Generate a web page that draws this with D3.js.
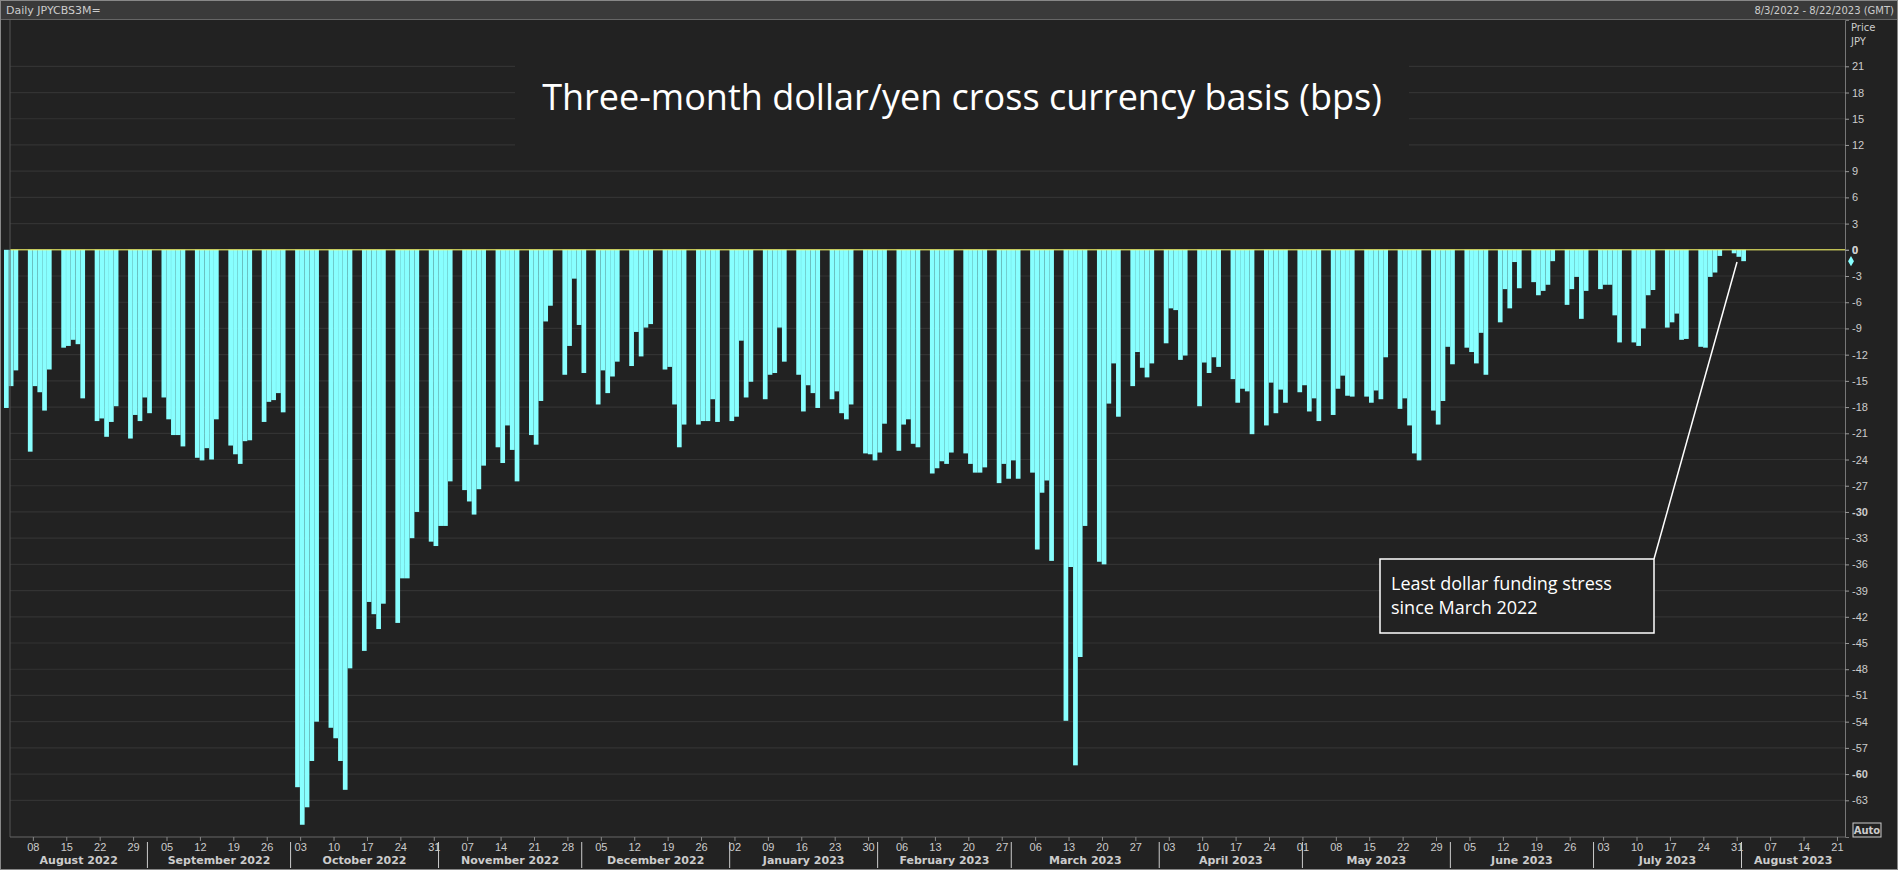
<!DOCTYPE html>
<html><head><meta charset="utf-8">
<script src="https://cdn.jsdelivr.net/npm/d3@7"></script>
<style>body{margin:0;background:#222;}svg{display:block;font-family:Verdana,"DejaVu Sans",sans-serif;}</style>
</head><body><svg id="c" width="1898" height="870"></svg>
<script>
// business days from 2022-08-03 to 2023-08-02, values in bps
const startDate = "2022-08-03", endDate = "2023-08-02";
const values = [
// Aug 2022
-18.1,-15.6,-13.8,-23.1,-15.6,-16.3,-18.4,-13.7,-11.2,-11.0,-10.3,-10.8,-17.0,-19.6,-19.3,-21.4,-19.7,-17.9,-21.6,-18.9,-19.6,
// Sep 2022
-16.9,-18.7,-16.9,-19.4,-21.2,-21.2,-22.5,-23.8,-24.1,-22.7,-24.0,-19.4,-22.4,-23.4,-24.5,-21.9,-21.8,-19.7,-17.4,-17.2,-16.4,-18.6,
// Oct 2022
-61.5,-65.8,-63.8,-58.5,-54.0,-54.7,-55.9,-58.5,-61.8,-47.9,-45.9,-40.3,-41.7,-43.4,-40.5,-42.7,-37.6,-37.6,-33.0,-30.0,-33.4,
// Nov 2022
-33.9,-31.6,-31.6,-26.5,-27.5,-28.8,-30.3,-27.4,-24.7,-22.6,-24.4,-20.1,-22.9,-26.5,-21.2,-22.3,-17.3,-8.2,-6.4,-14.3,-11.0,-3.3,
// Dec 2022
-8.6,-14.1,-17.7,-13.8,-16.4,-14.5,-12.8,-13.3,-9.4,-12.2,-8.9,-8.5,-13.7,-13.4,-17.7,-22.6,-20.0,-20.0,-19.6,-19.6,-17.1,-19.7,
// Jan 2023
-19.6,-19.1,-10.4,-16.9,-15.1,-17.1,-14.3,-14.1,-8.9,-12.8,-14.3,-18.5,-15.5,-16.4,-18.1,-17.1,-16.2,-18.7,-19.4,-17.7,-23.3,-23.4,
// Feb 2023
-24.1,-23.2,-19.9,-23.0,-20.0,-19.4,-22.2,-22.6,-25.6,-25.0,-24.2,-24.5,-23.2,-23.3,-24.5,-25.5,-25.5,-24.9,-26.7,-24.5,
// Mar 2023
-26.2,-24.1,-26.2,-25.5,-34.3,-27.8,-26.4,-35.6,-53.9,-36.3,-59.0,-46.6,-31.6,-35.7,-36.0,-17.6,-13.0,-19.1,-15.6,-11.7,-13.5,-14.6,-13.0,
// Apr 2023
-10.7,-6.7,-6.9,-12.6,-12.1,-17.9,-12.9,-14.1,-12.3,-13.4,-14.8,-17.5,-15.9,-16.2,-21.1,-20.1,-15.2,-18.7,-16.0,-17.5,
// May 2023
-16.3,-15.5,-18.5,-17.0,-19.6,-18.9,-15.9,-14.4,-16.7,-16.8,-16.8,-17.5,-16.1,-17.1,-12.3,-18.2,-17.0,-20.1,-23.3,-24.1,-18.4,-20.0,-17.3,
// Jun 2023
-11.1,-13.1,-11.2,-11.7,-13.0,-9.5,-14.3,-8.3,-4.5,-6.7,-1.4,-4.4,-3.7,-5.2,-4.7,-4.0,-1.3,-6.3,-4.5,-3.1,-7.9,-4.7,
// Jul 2023
-4.5,-4.0,-4.0,-7.5,-10.6,-10.6,-11.0,-9.0,-5.2,-4.6,-8.9,-8.3,-7.3,-10.3,-10.2,-11.1,-11.2,-3.1,-2.6,-0.7,-0.4,
// Aug 2023
-0.8,-1.3
];
const yTicks = d3.range(21, -64, -3);
const title = "Three-month dollar/yen cross currency basis (bps)";
const noteLines = ["Least dollar funding stress", "since March 2022"];

const p = d3.timeParse("%Y-%m-%d");
const dates = d3.timeDay.range(p(startDate), d3.timeDay.offset(p(endDate),1)).filter(d=>d.getDay()%6!==0);
const data = dates.map((d,i)=>({date:d, v:values[i]})).filter(d=>d.v!==undefined);

const svg = d3.select("#c");
const W=1898,H=870, L=10, R=1845, T=20, B=837;
svg.append("rect").attr("width",W).attr("height",H).attr("fill","#222");
const x = d3.scaleTime().domain([p("2022-08-03"), p("2023-08-23")]).range([9,1846.5]);
const y = d3.scaleLinear().domain([26.3,-67.2]).range([T,B]);

// grid
svg.append("g").selectAll("line").data(yTicks).join("line")
  .attr("x1",L).attr("x2",R).attr("y1",d=>y(d)).attr("y2",d=>y(d))
  .attr("stroke","#333").attr("stroke-width",1.2);
// title box hides grid
svg.append("rect").attr("x",515).attr("y",48).attr("width",894).attr("height",104).attr("fill","#222");
svg.append("text").attr("x",962).attr("y",110).attr("text-anchor","middle")
  .attr("fill","#fff").attr("font-family","'Open Sans',sans-serif").attr("font-size",36).text(title);

// bars
svg.append("g").selectAll("rect").data(data).join("rect")
  .attr("x",d=>x(d.date)-5).attr("width",4.7)
  .attr("y",d=>y(Math.max(0,d.v))).attr("height",d=>Math.abs(y(d.v)-y(0)))
  .attr("fill","#88ffff");
// zero line
svg.append("line").attr("x1",L).attr("x2",R).attr("y1",y(0)).attr("y2",y(0)).attr("stroke","#ffff66").attr("stroke-width",1);

// plot frame
svg.append("line").attr("x1",L).attr("x2",L).attr("y1",T).attr("y2",B).attr("stroke","#555");
svg.append("line").attr("x1",L).attr("x2",R).attr("y1",B).attr("y2",B).attr("stroke","#666");

// right axis
const ya = d3.axisRight(y).tickValues(yTicks.concat([0])).tickSize(4).tickFormat(d=>d);
const gy = svg.append("g").attr("transform",`translate(${R},0)`).call(ya);
gy.select(".domain").attr("stroke","#777");
gy.selectAll("line").attr("stroke","#999");
gy.selectAll("text").attr("fill","#ccc").attr("font-size",11).attr("x",7)
  .attr("font-weight",d=>(d===0||d===-30||d===-60)?"bold":"normal");
svg.append("path").attr("d",d3.symbol(d3.symbolDiamond,30)()).attr("transform",`translate(${R+6},${y(values[values.length-1])})`).attr("fill","#88ffff");

// x axis
const xa = d3.axisBottom(x).ticks(d3.timeMonday.every(1)).tickSize(4).tickFormat(d3.timeFormat("%d"));
const gx = svg.append("g").attr("transform",`translate(0,${B})`).call(xa);
gx.select(".domain").remove();
gx.selectAll("line").attr("stroke","#888");
gx.selectAll("text").attr("fill","#ccc").attr("font-size",11).attr("dy","0.6em");
const months = d3.timeMonth.range(p("2022-08-01"), p("2023-09-01"));
months.forEach(m=>{
  const a=Math.max(x(m),L), b=Math.min(x(d3.timeMonth.offset(m,1)),R);
  if(x(m)>L) svg.append("line").attr("x1",x(m)).attr("x2",x(m)).attr("y1",B+5).attr("y2",868).attr("stroke","#ccc");
  svg.append("text").attr("x",(a+b)/2).attr("y",864).attr("text-anchor","middle").attr("fill","#ccc")
    .attr("font-size",11).attr("font-weight","bold").text(d3.timeFormat("%B %Y")(m));
});

// annotation
const bx=1380, by=559, bw=274, bh=74;
svg.append("line").attr("x1",bx+bw).attr("y1",by).attr("x2",1737).attr("y2",262).attr("stroke","#fff").attr("stroke-width",1.5);
svg.append("rect").attr("x",bx).attr("y",by).attr("width",bw).attr("height",bh).attr("fill","#222").attr("stroke","#fff").attr("stroke-width",1.5);
noteLines.forEach((t,i)=>svg.append("text").attr("x",bx+11).attr("y",by+31+i*24).attr("fill","#fff")
  .attr("font-family","'Open Sans',sans-serif").attr("font-size",18).text(t));

// header
svg.append("rect").attr("x",0).attr("y",0).attr("width",W).attr("height",19).attr("fill","#3a3a3a");
svg.append("line").attr("x1",0).attr("x2",W).attr("y1",19.5).attr("y2",19.5).attr("stroke","#666");
svg.append("text").attr("x",6).attr("y",14).attr("fill","#ccc").attr("font-size",11).text("Daily JPYCBS3M=");
svg.append("text").attr("x",W-4).attr("y",14).attr("text-anchor","end").attr("fill","#ccc").attr("font-size",10).text("8/3/2022 - 8/22/2023 (GMT)");
svg.append("text").attr("x",1851).attr("y",31).attr("fill","#ccc").attr("font-size",10).text("Price");
svg.append("text").attr("x",1851).attr("y",45).attr("fill","#ccc").attr("font-size",10).text("JPY");
svg.append("rect").attr("x",1853).attr("y",823).attr("width",28).attr("height",14).attr("fill","none").attr("stroke","#ccc");
svg.append("text").attr("x",1867).attr("y",834).attr("text-anchor","middle").attr("fill","#ccc").attr("font-size",10).attr("font-weight","bold").text("Auto");
svg.append("rect").attr("x",0.5).attr("y",0.5).attr("width",W-1).attr("height",H-1).attr("fill","none").attr("stroke","#888");
</script></body></html>
